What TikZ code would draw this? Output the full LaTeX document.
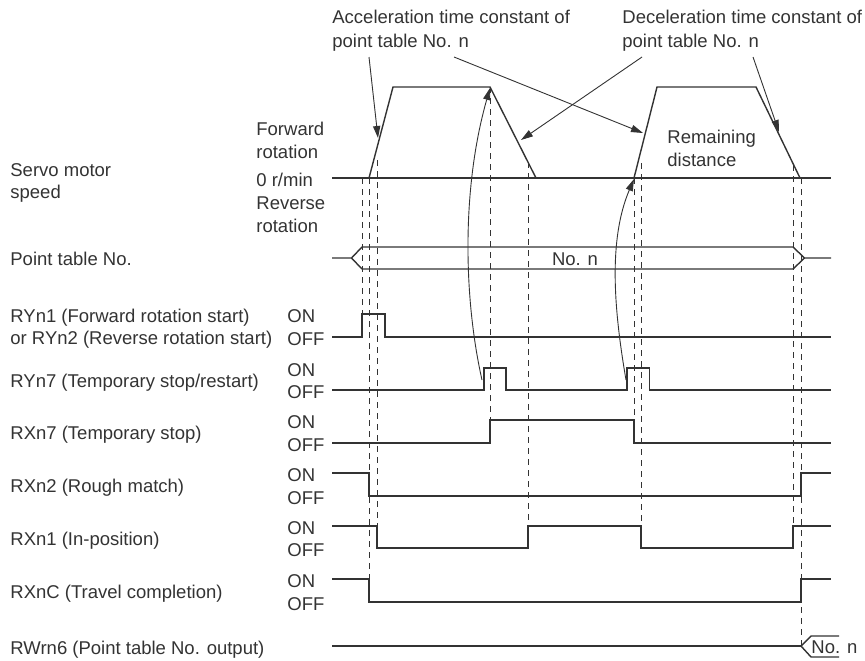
\documentclass[tikz,border=0pt]{standalone}
\usepackage{fontspec}
\setmainfont{Liberation Sans}
\usetikzlibrary{arrows.meta}

\definecolor{ink}{HTML}{333333}

\begin{document}
\begin{tikzpicture}[
    x=0.5pt, y=-0.5pt,
    every node/.style={font=\fontsize{9.25pt}{11.25pt}\selectfont, text=ink, inner sep=0pt},
    lbl/.style={anchor=base west},
    multi/.style={anchor=north west, align=left},
    sig/.style={draw=ink, line width=0.7pt},
    guide/.style={draw=ink, line width=0.45pt, dash pattern=on 3pt off 2.5pt},
    arrow/.style={-{Triangle[length=6pt, width=3.6pt]}, draw=ink, line width=0.45pt},
]
\useasboundingbox (0,0) rectangle (865,660);

\node[multi] (accel) at (332,10) {Acceleration time constant of\\[0.75pt]point table No. n};
\node[multi] (decel) at (622,10) {Deceleration time constant of\\[0.75pt]point table No. n};
\node[multi] (remain) at (667,130) {Remaining\\distance};

\node[multi] (speed) at (10,163) {Servo motor\\speed};
\node[multi] (fwd) at (256,122) {Forward\\rotation};
\node[lbl] (zero) at (256,186) {0 r/min};
\node[multi] (rev) at (256,196.5) {Reverse\\rotation};
\node[lbl] (ptable) at (10,265) {Point table No.};
\node[multi] (ryn1) at (10,308.5) {RYn1 (Forward rotation start)\\or RYn2 (Reverse rotation start)};
\node[lbl] (ryn7) at (10,387) {RYn7 (Temporary stop/restart)};
\node[lbl] (rxn7) at (10,439.5) {RXn7 (Temporary stop)};
\node[lbl] (rxn2) at (10,492.5) {RXn2 (Rough match)};
\node[lbl] (rxn1) at (10,545) {RXn1 (In-position)};
\node[lbl] (rxnc) at (10,598.5) {RXnC (Travel completion)};
\node[lbl] (rwrn6) at (10,654) {RWrn6 (Point table No. output)};

\foreach \on/\off in {314/337, 368/390, 420/443, 473/496, 526/548, 579/602} {
    \node[lbl] (on\on) at (287,\on+8) {ON};
    \node[lbl] (off\off) at (287,\off+8) {OFF};
}

% speed
\draw[sig] (332,178) -- (831,178);
\draw[sig] (369,178) -- (393,87) -- (490,87) -- (536,178);
\draw[sig] (634,178) -- (657,87) -- (756,87) -- (800,178);

% guides
\foreach \x/\ya/\yb in {362/178/314, 369/178/579, 377/160/526, 490/87/420, 528/162/526,
                        634/178/420, 641/163/526, 793/165/526, 801/178/646}
    \draw[guide] (\x,\ya) -- (\x,\yb);

% signals
\draw[sig] (332,258) -- (351.5,258) -- (362,247) -- (793,247) -- (804.5,258) -- (831,258);
\draw[sig] (351.5,258) -- (362,269) -- (793,269) -- (804.5,258);
\node[anchor=base] (nonum) at (575,265) {No. n};

\draw[sig] (332,337) -- (362,337) -- (362,314) -- (385,314) -- (385,337) -- (831,337);
\draw[sig] (332,390) -- (484,390) -- (484,368) -- (506,368) -- (506,390) -- (627,390)
    -- (627,368) -- (649.5,368) -- (649.5,390) -- (831,390);
\draw[sig] (332,443) -- (490,443) -- (490,420) -- (634,420) -- (634,443) -- (831,443);
\draw[sig] (332,473) -- (369,473) -- (369,496) -- (801,496) -- (801,473) -- (831,473);
\draw[sig] (332,526) -- (377,526) -- (377,548) -- (528,548) -- (528,526) -- (641,526)
    -- (641,548) -- (793,548) -- (793,526) -- (831,526);
\draw[sig] (332,579) -- (369,579) -- (369,602) -- (801,602) -- (801,579) -- (831,579);
\draw[sig] (332,646) -- (801,646);
\draw[sig] (839,636) -- (811,636) -- (801,646) -- (811,657) -- (839,657);
\node[lbl] (outnum) at (811,653) {No. n};

% arrows
\coordinate (a1) at (369,57);
\coordinate (a2) at (454,57);
\coordinate (d1) at (642,57);
\coordinate (d2) at (753,57);
\coordinate (acc1) at (378,138);
\coordinate (acc2) at (643,133);
\coordinate (dec1) at (521,140);
\coordinate (dec2) at (779,132);
\coordinate (stop1) at (482,380);
\coordinate (stop2) at (626,380);
\coordinate (peak1) at (490,88);
\coordinate (start2) at (634,179);

\draw[arrow] (a1) -- (acc1);
\draw[arrow] (a2) -- (acc2);
\draw[arrow] (d1) -- (dec1);
\draw[arrow] (d2) -- (dec2);
\draw[arrow] (stop1) .. controls (464,300) and (461,190) .. (peak1);
\draw[arrow] (stop2) .. controls (614,310) and (608,240) .. (start2);
\end{tikzpicture}
\end{document}
